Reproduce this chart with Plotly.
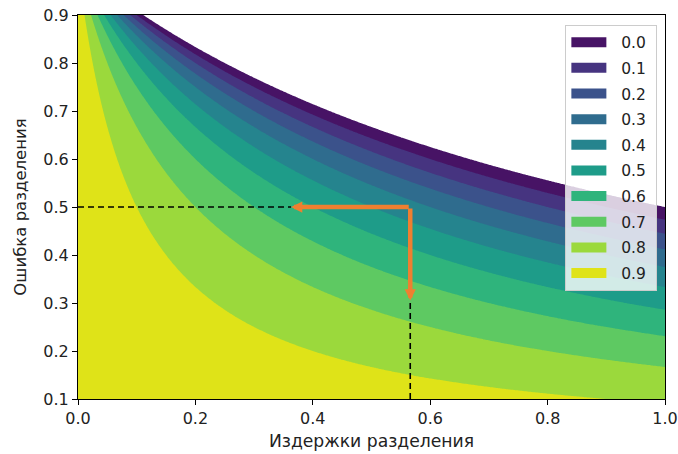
import numpy as np
import plotly.graph_objects as go

# Grid of the two axes (separation cost, separation error)
cost = np.linspace(0.0, 1.0, 401)
error = np.linspace(0.1, 0.9, 321)

# Contour levels and their labels
levels = [0.0, 0.1, 0.2, 0.3, 0.4, 0.5, 0.6, 0.7, 0.8, 0.9]
level_labels = ["0.0", "0.1", "0.2", "0.3", "0.4", "0.5", "0.6", "0.7", "0.8", "0.9"]
level_colors = ["#471365", "#463480", "#3b528b", "#2f6c8e", "#25848e",
                "#1e9c89", "#2fb47c", "#5ec962", "#9bd93c", "#dfe318"]

# Guide point and arrow end points
guide_cost = 0.566
guide_error = 0.5
arrow_cost_end = 0.363
arrow_error_end = 0.305
x_min, y_min = 0.0, 0.1

X, Y = np.meshgrid(cost, error)
Z = 1.0 - X * Y / (1.0 - Y)

colorscale = [[0.0, "white"]] + [[(i + 1) / 10, c] for i, c in enumerate(level_colors)]

fig = go.Figure()
fig.add_trace(go.Contour(
    x=cost, y=error, z=Z,
    autocontour=False,
    contours=dict(start=levels[0], end=levels[-1], size=0.1,
                  coloring="fill", showlines=False),
    line=dict(width=0),
    colorscale=colorscale,
    showscale=False,
    hoverinfo="skip",
    showlegend=False,
))

# Dashed guide lines
fig.add_trace(go.Scatter(
    x=[x_min, arrow_cost_end], y=[guide_error, guide_error],
    mode="lines", line=dict(color="black", width=1.6, dash="6px,4px"),
    showlegend=False, hoverinfo="skip"))
fig.add_trace(go.Scatter(
    x=[guide_cost, guide_cost], y=[y_min, arrow_error_end],
    mode="lines", line=dict(color="black", width=1.6, dash="6px,4px"),
    showlegend=False, hoverinfo="skip"))

# Legend entries
for lab, col in zip(level_labels, level_colors):
    fig.add_trace(go.Scatter(
        x=[None], y=[None], mode="lines", name="\u00a0\u00a0" + lab + "\u00a0",
        line=dict(color=col, width=11), legendgroup=lab))

orange = "#ef7f30"
for (tx, ty) in [(arrow_cost_end, guide_error), (guide_cost, arrow_error_end)]:
    fig.add_annotation(
        x=tx, y=ty, ax=guide_cost, ay=guide_error,
        xref="x", yref="y", axref="x", ayref="y",
        text="", showarrow=True, arrowhead=2, arrowsize=0.5,
        arrowwidth=4.5, arrowcolor=orange, standoff=0, startstandoff=0)

tick_font = dict(family="DejaVu Sans", size=16, color="#222222")
fig.update_layout(
    width=678, height=454,
    margin=dict(l=78, r=13, t=15, b=55),
    paper_bgcolor="white", plot_bgcolor="white",
    font=tick_font,
    showlegend=True,
    legend=dict(x=0.987, y=0.975, xanchor="right", yanchor="top",
                bgcolor="rgba(255,255,255,0.8)", bordercolor="#cccccc",
                borderwidth=1, font=dict(family="DejaVu Sans", size=15.5, color="#222222"),
                tracegroupgap=2.5, itemwidth=35),
    xaxis=dict(range=[0, 1], tickvals=[0, 0.2, 0.4, 0.6, 0.8, 1.0],
               tickformat=".1f", showgrid=False, zeroline=False,
               showline=True, linecolor="black", linewidth=1, mirror=True,
               ticks="outside", ticklen=5, tickcolor="black",
               tickfont=tick_font, automargin=False, ticklabeloverflow="allow",
               title=dict(text="Издержки разделения",
                          font=dict(family="DejaVu Sans", size=17.2, color="#222222"),
                          standoff=7)),
    yaxis=dict(range=[0.1, 0.9], tickvals=[0.1, 0.2, 0.3, 0.4, 0.5, 0.6, 0.7, 0.8, 0.9],
               tickformat=".1f", showgrid=False, zeroline=False,
               showline=True, linecolor="black", linewidth=1, mirror=True,
               ticks="outside", ticklen=5, tickcolor="black",
               tickfont=tick_font, automargin=False, ticklabeloverflow="allow",
               title=dict(text="Ошибка разделения",
                          font=dict(family="DejaVu Sans", size=16.5, color="#222222"),
                          standoff=12)),
)

fig.write_html("out.html", config={"displayModeBar": False},
               post_script="document.body.style.margin='0';document.body.style.overflow='hidden';")
